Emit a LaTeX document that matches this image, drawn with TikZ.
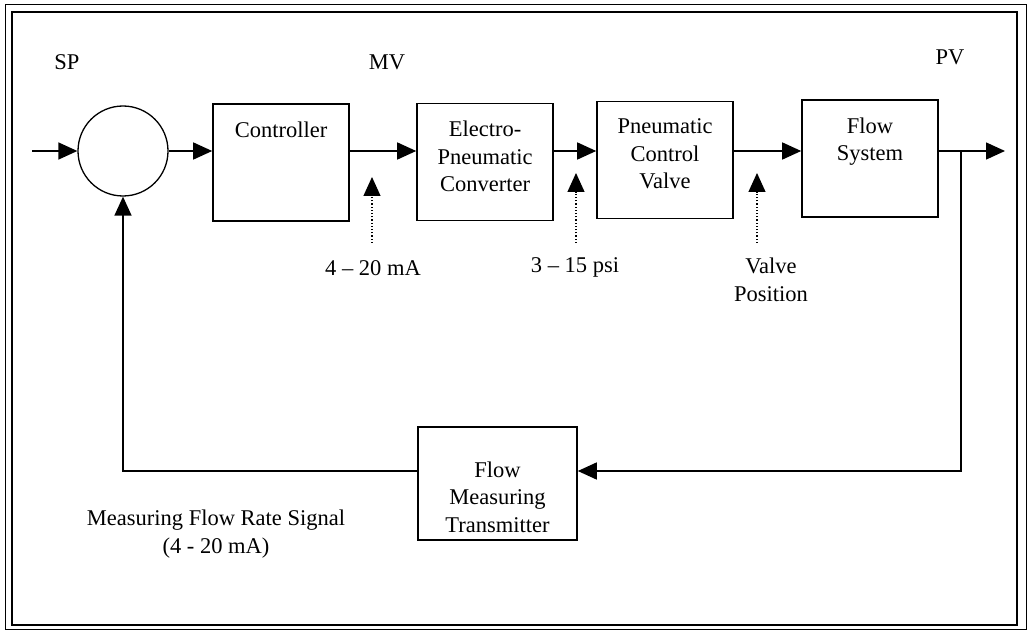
\documentclass[tikz,border=0pt]{standalone}
\usepackage{fontspec}
\setmainfont{Liberation Serif}
\usetikzlibrary{arrows.meta}
\begin{document}
\begin{tikzpicture}[x=1pt,y=-1pt,
  every node/.style={font=\fontsize{22.5}{27.5}\selectfont},
  blk/.style={draw, line width=1.6pt, minimum width=136pt, minimum height=117pt, inner sep=0pt},
  blktext/.style={align=center, anchor=north, yshift=-18pt, inner sep=0pt},
  arr/.style={line width=1.5pt, -{Triangle[length=19pt,width=17pt]}},
  ln/.style={line width=1.5pt},
  dotarr/.style={line width=1.2pt, dotted, -{Triangle[length=19pt,width=17pt]}},
  txt/.style={align=center, inner sep=0pt}
]
\useasboundingbox (0,0) rectangle (1028,631);
% frame
\draw[line width=1pt] (5,5) rectangle (1026,629);
\draw[line width=1.6pt] (12,12) rectangle (1017,625);

% blocks
\node[draw, circle, line width=1.3pt, minimum size=90pt, inner sep=0pt] (sum) at (123,151) {};
\node[blk, minimum width=136pt] (ctrl) at (281,162.5) {};
\node[blktext] (ctrlt) at (ctrl.north) {Controller};
\node[blk] (ep) at (485,162) {};
\node[blktext] (ept) at (ep.north) {Electro-\\Pneumatic\\Converter};
\node[blk] (pcv) at (665,160) {};
\node[blktext] (pcvt) at (pcv.north) {Pneumatic\\Control\\Valve};
\node[blk] (fs) at (870,158.5) {};
\node[blktext] (fst) at (fs.north) {Flow\\System};
\node[blk, minimum width=159pt, minimum height=113pt] (fmt) at (497.5,483.5) {};
\node[blktext, yshift=-17pt] (fmtt) at (fmt.north) {Flow\\Measuring\\Transmitter};

% labels
\node[txt] (sp) at (67,62) {SP};
\node[txt] (mv) at (387,62) {MV};
\node[txt] (pv) at (950,57) {PV};
\node[txt] (l1) at (373,268) {4 -- 20 mA};
\node[txt] (l2) at (575,267) {3 -- 15 psi};
\node[txt] (l3) at (771,280) {Valve\\Position};
\node[txt] (l4) at (216,534) {Measuring Flow Rate Signal\\(4 - 20 mA)};

% coordinates
\coordinate (in) at (32,151);
\coordinate (br) at (961,151);
\coordinate (out) at (1005,151);
\coordinate (fb) at (0,471);
\coordinate (d1s) at (372,243);
\coordinate (d1e) at (372,177);
\coordinate (d2s) at (576,243);
\coordinate (d2e) at (576,173);
\coordinate (d3s) at (757,243);
\coordinate (d3e) at (757,173);

% forward path
\draw[arr] (in) -- (sum.west);
\draw[arr] (sum.east) -- (sum.east -| ctrl.west);
\draw[arr] (ctrl.east |- sum) -- (ep.west |- sum);
\draw[arr] (ep.east |- sum) -- (pcv.west |- sum);
\draw[arr] (pcv.east |- sum) -- (fs.west |- sum);
\draw[arr] (fs.east |- sum) -- (out);

% feedback
\draw[arr] (br) |- (fmt.east |- fb);
\draw[arr] (fmt.west |- fb) -| (sum.south);

% dotted signal arrows
\draw[dotarr] (d1s) -- (d1e);
\draw[dotarr] (d2s) -- (d2e);
\draw[dotarr] (d3s) -- (d3e);
\end{tikzpicture}
\end{document}
